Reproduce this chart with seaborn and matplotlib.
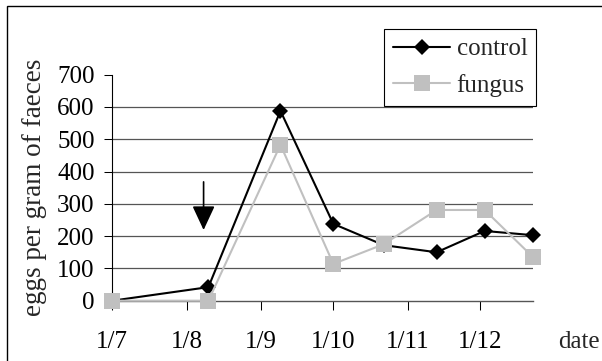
import matplotlib
matplotlib.use("Agg")
import matplotlib.pyplot as plt
import matplotlib.dates as mdates
from matplotlib.patches import Rectangle
import seaborn as sns
import pandas as pd

# ---- data ----
dates = ["2000-07-01", "2000-08-10", "2000-09-09", "2000-10-01",
         "2000-10-22", "2000-11-13", "2000-12-03", "2000-12-23"]
control = [0, 42, 588, 238, 172, 150, 216, 203]
fungus = [0, 0, 483, 114, 175, 281, 281, 136]
series_names = ["control", "fungus"]

tick_dates = ["2000-07-01", "2000-08-01", "2000-09-01",
              "2000-10-01", "2000-11-01", "2000-12-01"]
tick_labels = ["1/7", "1/8", "1/9", "1/10", "1/11", "1/12"]
y_ticks = [0, 100, 200, 300, 400, 500, 600, 700]
x_limits = ["2000-07-01", "2000-12-23"]
x_title = "date"
y_title = "eggs per gram of faeces"

arrow_date = "2000-08-08"
arrow_from = 368
arrow_to = 219

# ---- style ----
sns.set_style("white")
plt.rcParams["font.family"] = ["Liberation Serif", "DejaVu Serif"]
FS = 18

fig = plt.figure(figsize=(6.02, 3.61), dpi=100)
ax = fig.add_axes([112.3 / 602, 1 - 300.7 / 361, 420.4 / 602, 226.0 / 361])

df = pd.DataFrame({"date": pd.to_datetime(dates),
                   series_names[0]: control,
                   series_names[1]: fungus})

for v in y_ticks[1:-1]:
    ax.axhline(v, color="#555555", lw=0.9, zorder=0)

sns.lineplot(data=df, x="date", y=series_names[0], ax=ax, color="black",
             marker="D", markersize=7.8, markeredgewidth=0, linewidth=1.5,
             label=series_names[0], zorder=3, clip_on=False)
sns.lineplot(data=df, x="date", y=series_names[1], ax=ax, color="#c0c0c0",
             marker="s", markersize=11, markeredgewidth=0, linewidth=1.5,
             label=series_names[1], zorder=4, clip_on=False)

ax.set_ylim(y_ticks[0], y_ticks[-1])
ax.set_xlim(pd.Timestamp(x_limits[0]), pd.Timestamp(x_limits[1]))
ax.set_yticks(y_ticks)
ax.set_xticks(pd.to_datetime(tick_dates))
ax.set_xticklabels(tick_labels)

for s in ["top", "right"]:
    ax.spines[s].set_visible(False)
ax.spines["left"].set_color("black")
ax.spines["left"].set_linewidth(0.8)
ax.spines["bottom"].set_color("#555555")
ax.spines["bottom"].set_linewidth(1.0)
ax.spines["bottom"].set_zorder(1)

ax.tick_params(axis="y", direction="out", length=5.8, width=0.75,
               pad=7, labelsize=FS, colors="black", left=True)
ax.tick_params(axis="x", direction="out", length=6.5, width=0.75,
               pad=15, labelsize=FS, colors="black", bottom=True)

ax.set_xlabel("")
ax.set_ylabel(y_title, fontsize=19.5)
ax.yaxis.set_label_coords(-0.155, 0.5)
ax.text(1.110, -0.2093, x_title, transform=ax.transAxes, ha="center",
        va="baseline", fontsize=FS)

a_x = mdates.date2num(pd.Timestamp(arrow_date))
ax.annotate("", xy=(a_x, arrow_to), xytext=(a_x, arrow_from),
            arrowprops=dict(arrowstyle="-|>,head_length=1.5,head_width=0.7",
                            mutation_scale=10, color="black", lw=1.2,
                            shrinkA=0, shrinkB=0))

leg = ax.legend(loc="upper left", bbox_to_anchor=(384 / 602, 1 - 29 / 361),
                bbox_transform=fig.transFigure, borderaxespad=0,
                frameon=True, fancybox=False, edgecolor="black",
                framealpha=1, fontsize=FS, handlelength=2.3,
                handletextpad=0.25, borderpad=0.35, labelspacing=0.55)
leg.get_frame().set_linewidth(0.8)

fig.add_artist(Rectangle((7 / 602, -0.5), 2, 0.5 + (1 - 5.5 / 361),
                         transform=fig.transFigure, fill=False,
                         edgecolor="black", lw=1.0))

fig.savefig("out.png", dpi=100)
